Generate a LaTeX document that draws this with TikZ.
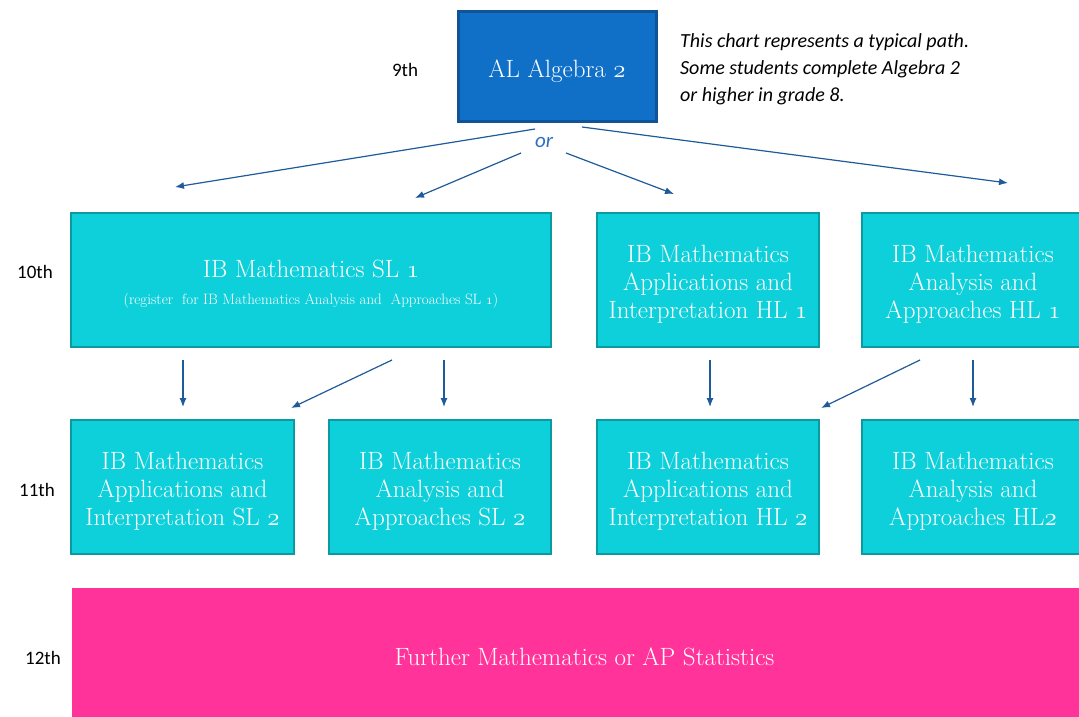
\documentclass[tikz,border=0pt]{standalone}
\usepackage{fontspec}
\usetikzlibrary{arrows.meta}
\newfontfamily\calibri{Carlito}
\newcommand\onum[1]{{\usefont{OML}{cmm}{m}{it}#1}}
\newcommand\lowertop{\rule{0pt}{26pt}}
\definecolor{algblue}{HTML}{1070C8}
\definecolor{algedge}{HTML}{0E5497}
\definecolor{ibcyan}{HTML}{0ED0DA}
\definecolor{ibedge}{HTML}{0B9AA2}
\definecolor{furtherpink}{HTML}{FF3399}
\definecolor{arrowblue}{HTML}{1F5A9A}
\definecolor{orblue}{HTML}{2F6FC0}
\begin{document}
\begin{tikzpicture}
	[x=1pt,y=-1pt,
	course/.style={draw=ibedge,line width=2.2pt,fill=ibcyan,text=white,align=center,
		inner sep=0pt,minimum width=222pt,minimum height=134pt,font=\fontsize{25}{28}\selectfont},
	grade/.style={font=\calibri\fontsize{19}{23}\selectfont},
	arr/.style={draw=arrowblue,line width=1.2pt,-{Latex[length=9pt,width=7pt]}}]
	\useasboundingbox (0,0) rectangle (1079,717);
	% grades
	\node[grade] (g9) at (405,70) {9th};
	\node[grade] (g10) at (35,272) {10th};
	\node[grade] (g11) at (37,490) {11th};
	\node[grade] (g12) at (43,658) {12th};
	% courses
	\node[draw=algedge,line width=3pt,fill=algblue,text=white,minimum width=198pt,minimum height=109pt,
		text height=27pt,font=\fontsize{25}{28}\selectfont] (alg) at (557,66.5) {AL Algebra \onum{2}};
	\node[anchor=north west,align=left,inner sep=0pt,font=\calibri\itshape\fontsize{20}{27}\selectfont] (note) at (680,33)
		{This chart represents a typical path.\\Some students complete Algebra 2\\or higher in grade 8.};
	\node[course,minimum width=480pt] (sl1) at (311,280)
		{\lowertop IB Mathematics SL \onum{1}\\[-1pt]
		{\fontsize{15}{17}\selectfont (register\ \ for IB Mathematics Analysis and\ \ Approaches SL \onum{1})}};
	\node[course] (aihl1) at (708,280) {\lowertop IB Mathematics\\Applications and\\Interpretation HL \onum{1}};
	\node[course] (aahl1) at (973,280) {\lowertop IB Mathematics\\Analysis and\\Approaches HL \onum{1}};
	\node[course,minimum width=223pt] (aisl2) at (182.5,487) {\lowertop IB Mathematics\\Applications and\\Interpretation SL \onum{2}};
	\node[course] (aasl2) at (440,487) {\lowertop IB Mathematics\\Analysis and\\Approaches SL \onum{2}};
	\node[course] (aihl2) at (708,487) {\lowertop IB Mathematics\\Applications and\\Interpretation HL \onum{2}};
	\node[course] (aahl2) at (973,487) {\lowertop IB Mathematics\\Analysis and\\Approaches HL\onum{2}};
	\node[fill=furtherpink,text=white,minimum width=1007pt,minimum height=129pt,text height=27pt,
		font=\fontsize{25}{28}\selectfont] (further) at (575.5,652.5) {\hspace*{18pt}Further Mathematics or AP Statistics};
	% or
	\node[text=orblue,font=\calibri\itshape\fontsize{21}{25}\selectfont] (or) at (544,142) {or};
	% arrow ends
	\coordinate (a1) at (535,129); \coordinate (b1) at (175,187);
	\coordinate (a2) at (521,153); \coordinate (b2) at (415,198);
	\coordinate (a3) at (566,153); \coordinate (b3) at (674,194);
	\coordinate (a4) at (582,127); \coordinate (b4) at (1008,183);
	\coordinate (a5) at (183,360); \coordinate (b5) at (183,407);
	\coordinate (a6) at (392,360); \coordinate (b6) at (291,408);
	\coordinate (a7) at (444,360); \coordinate (b7) at (444,407);
	\coordinate (a8) at (710,360); \coordinate (b8) at (710,407);
	\coordinate (a9) at (920,360); \coordinate (b9) at (821,408);
	\coordinate (a10) at (973,360); \coordinate (b10) at (973,407);
	\path[every edge/.style=arr]
	(a1) edge (b1)
	(a2) edge (b2)
	(a3) edge (b3)
	(a4) edge (b4)
	(a5) edge (b5)
	(a6) edge (b6)
	(a7) edge (b7)
	(a8) edge (b8)
	(a9) edge (b9)
	(a10) edge (b10);
\end{tikzpicture}
\end{document}
